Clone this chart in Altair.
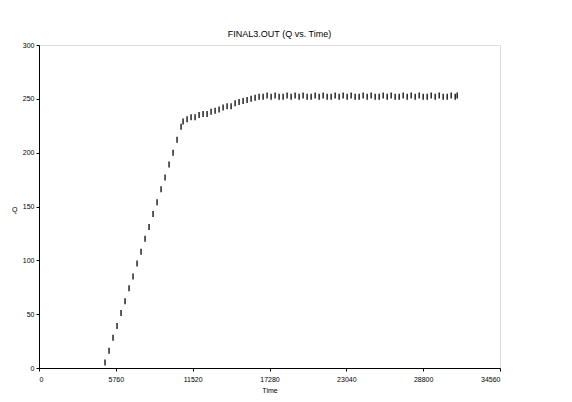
import altair as alt
import pandas as pd

# Time (s) and Q readings
time_s = [
    4950, 5250, 5550, 5850, 6150, 6450, 6750, 7050, 7350, 7650,
    7950, 8250, 8550, 8850, 9150, 9450, 9750, 10050, 10350, 10650,
    10800, 11100, 11400, 11700, 12000, 12300, 12600, 12900, 13200, 13500,
    13800, 14100, 14400, 14700, 15000, 15300, 15600, 15900, 16200, 16500,
    16800, 17100, 17400, 17700, 18000, 18300, 18600, 18900, 19200, 19500,
    19800, 20100, 20400, 20700, 21000, 21300, 21600, 21900, 22200, 22500,
    22800, 23100, 23400, 23700, 24000, 24300, 24600, 24900, 25200, 25500,
    25800, 26100, 26400, 26700, 27000, 27300, 27600, 27900, 28200, 28500,
    28800, 29100, 29400, 29700, 30000, 30300, 30600, 30900, 31200, 31350,
]
q_vals = [
    5, 16, 28, 39, 51, 62, 74, 85, 97, 108,
    120, 131, 143, 154, 166, 177, 189, 200, 212, 224,
    229, 231, 233, 233, 235, 236, 236, 238, 239, 240,
    242, 243, 243, 246, 247, 248, 249, 250, 251, 252,
    252, 253, 252, 253, 252, 252, 253, 252, 253, 252,
    253, 252, 252, 253, 252, 253, 252, 252, 253, 252,
    253, 252, 253, 252, 252, 253, 252, 253, 252, 252,
    253, 252, 253, 252, 252, 253, 252, 253, 252, 253,
    252, 252, 253, 252, 253, 252, 252, 253, 252, 253,
]

x_ticks = [0, 5760, 11520, 17280, 23040, 28800, 34560]
y_ticks = [0, 50, 100, 150, 200, 250, 300]

df = pd.DataFrame({"Time": time_s, "Q": q_vals})

chart = alt.Chart(df).mark_tick(
    orient="vertical", size=6, thickness=1.3, color="black", opacity=1
).encode(
    x=alt.X("Time:Q",
            scale=alt.Scale(domain=[0, 34560], nice=False, zero=True),
            axis=alt.Axis(values=x_ticks, title="Time", grid=False,
                          format="d", labelFontSize=7, titleFontSize=7,
                          titleFontWeight="normal", tickSize=3,
                          labelPadding=4, titlePadding=4,
                          labelFlush=True, labelColor="black",
                          titleColor="black", domainColor="black",
                          tickColor="black")),
    y=alt.Y("Q:Q",
            scale=alt.Scale(domain=[0, 300], nice=False),
            axis=alt.Axis(values=y_ticks, title="Q", grid=False,
                          labelFontSize=7, titleFontSize=7,
                          titleFontWeight="normal", tickSize=3,
                          labelPadding=2, titleAngle=0,
                          titleX=-22, titleY=164, titleAlign="right",
                          titleBaseline="middle", labelColor="black",
                          titleColor="black", domainColor="black",
                          tickColor="black")),
).properties(
    width=461,
    height=323,
    title=alt.TitleParams("FINAL3.OUT (Q vs. Time)", fontSize=9,
                          fontWeight="normal", offset=2, dx=10,
                          anchor="middle", color="black"),
    autosize=alt.AutoSizeParams(type="none"),
    padding={"left": 31, "top": 37, "right": 64, "bottom": 26},
).configure_view(
    stroke=None
).configure_axis(
    labelFont="Liberation Sans", titleFont="Liberation Sans"
).configure_title(
    font="Liberation Sans"
).configure(background="white")

chart.save("out.html", embed_options={"renderer": "svg", "actions": False})
